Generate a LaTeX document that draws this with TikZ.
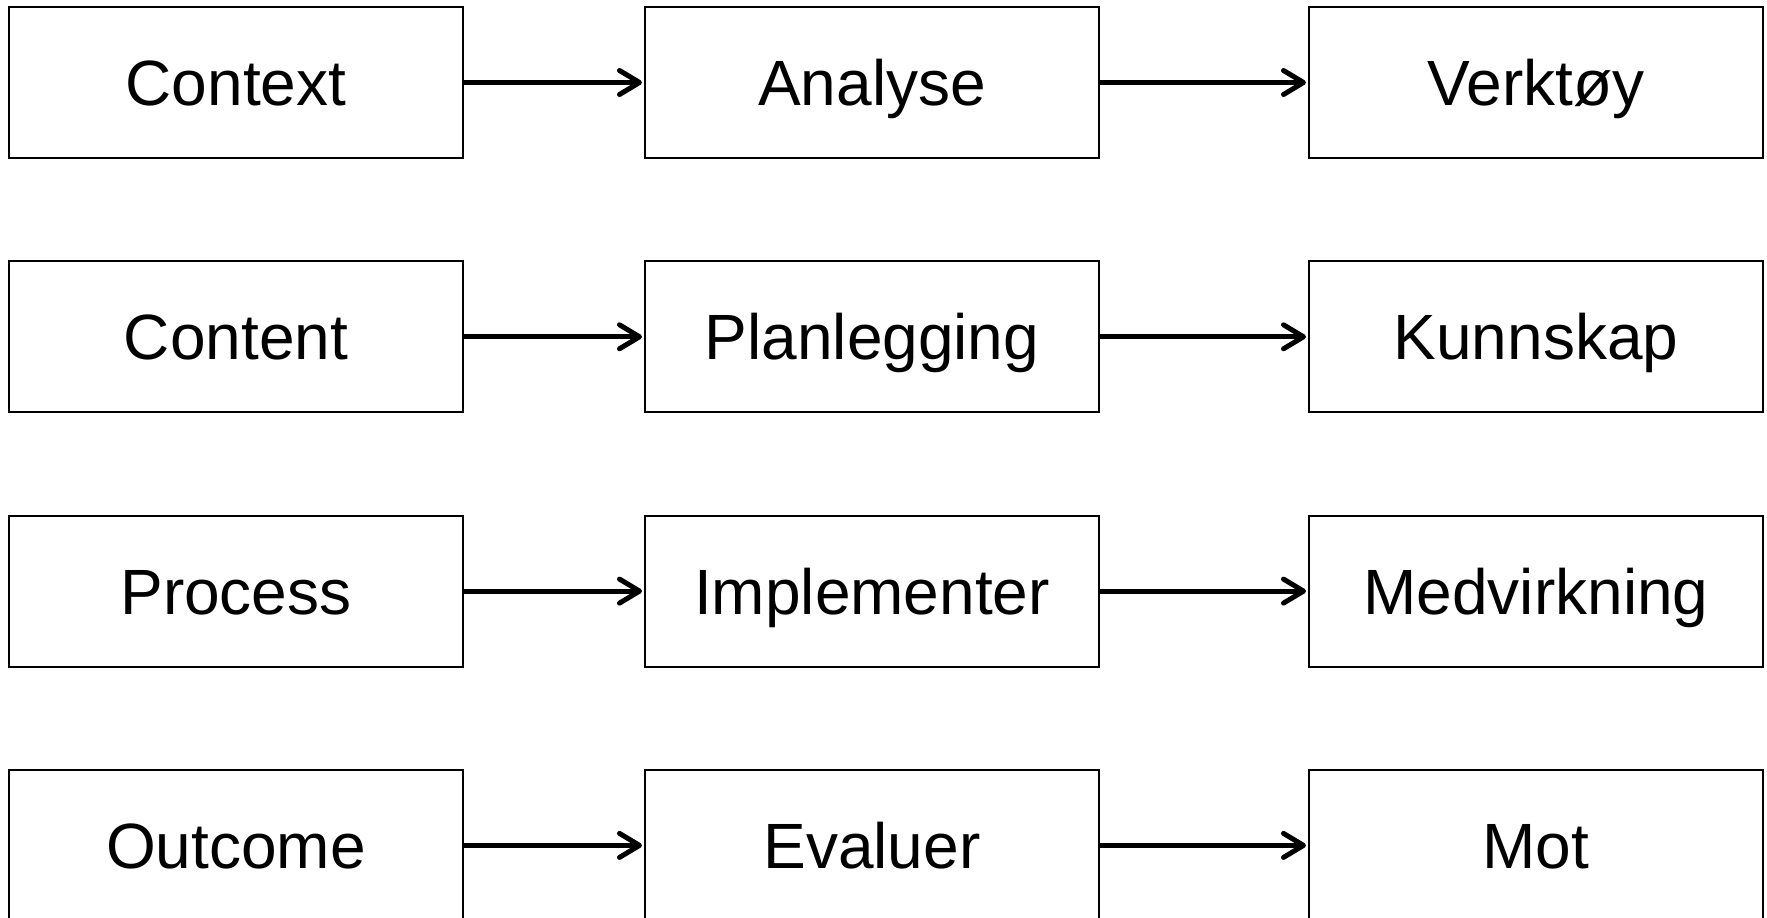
\documentclass[tikz,border=0pt]{standalone}
\usepackage{fontspec}
\setmainfont{Liberation Sans}
\usetikzlibrary{arrows.meta}
\begin{document}
\begin{tikzpicture}[x=0.5pt,y=-0.5pt,
  stagebox/.style={draw=black, line width=1pt, fill=white, minimum width=227pt, minimum height=75.5pt,
    inner sep=0pt, font=\fontsize{32}{38}\selectfont, text height=23pt, text depth=0pt},
  flow/.style={line width=2.5pt, -{Straight Barb[length=10pt, width=12pt, line width=2.5pt, line cap=round, round]}, shorten >=1pt}]
\useasboundingbox (0,0) rectangle (1767,917);
\foreach \name/\txt [count=\i from 0] in {a/Context, b/Content, c/Process, d/Outcome}{
  \node[stagebox] (\name1) at (236, 82.5+254.3*\i) {\txt};
}
\foreach \name/\txt [count=\i from 0] in {a/Analyse, b/Planlegging, c/Implementer, d/Evaluer}{
  \node[stagebox] (\name2) at (872, 82.5+254.3*\i) {\txt};
}
\foreach \name/\txt [count=\i from 0] in {a/Verktøy, b/Kunnskap, c/Medvirkning, d/Mot}{
  \node[stagebox] (\name3) at (1536, 82.5+254.3*\i) {\txt};
}
\foreach \r in {a,b,c,d}{
  \draw[flow] (\r1.east) -- (\r2.west);
  \draw[flow] (\r2.east) -- (\r3.west);
}
\end{tikzpicture}
\end{document}
